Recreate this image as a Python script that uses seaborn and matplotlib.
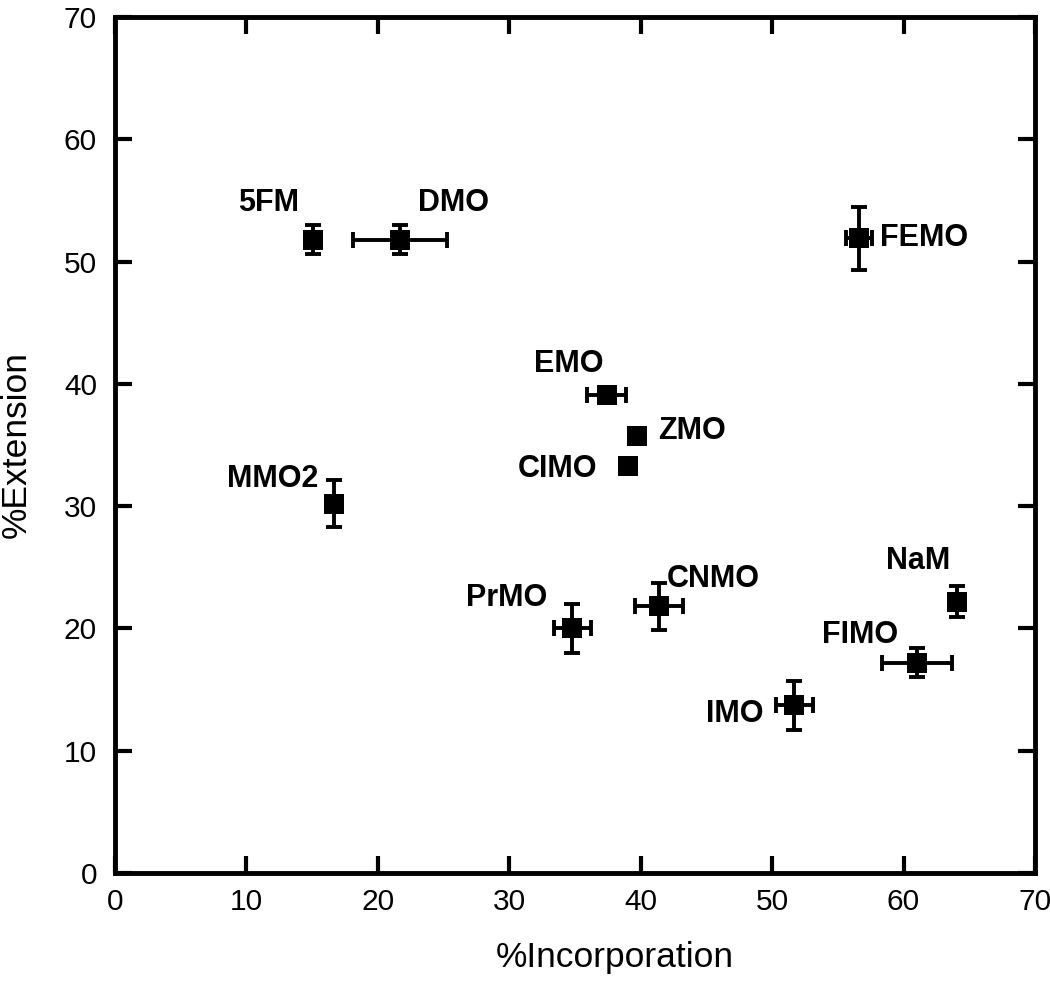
import numpy as np
import pandas as pd
import matplotlib
matplotlib.use("Agg")
import matplotlib.pyplot as plt
import seaborn as sns

# data
names = ["5FM", "DMO", "FEMO", "EMO", "ZMO", "CIMO", "MMO2", "PrMO", "CNMO", "NaM", "FIMO", "IMO"]
incorporation = [15.1, 21.7, 56.6, 37.4, 39.7, 39.0, 16.7, 34.8, 41.4, 64.1, 61.0, 51.7]
extension = [51.8, 51.8, 51.9, 39.1, 35.7, 33.3, 30.2, 20.0, 21.8, 22.2, 17.2, 13.7]
incorporation_err = [0, 3.6, 1.0, 1.45, 0, 0, 0, 1.4, 1.8, 0.6, 2.65, 1.4]
extension_err = [1.2, 1.2, 2.6, 0, 0, 0, 1.9, 2.0, 1.9, 1.3, 1.2, 2.0]

# label placement (offset from point, in pixels at 100 dpi)
label_offsets = {
    "5FM": (-45, 37), "DMO": (53, 37), "FEMO": (65, 0), "EMO": (-38, 31),
    "ZMO": (55, 5), "CIMO": (-70, -3), "MMO2": (-62, 25), "PrMO": (-66, 30),
    "CNMO": (54, 27), "NaM": (-39, 41), "FIMO": (-57, 28), "IMO": (-60, -9),
}

df = pd.DataFrame({"name": names, "inc": incorporation, "ext": extension,
                   "inc_err": incorporation_err, "ext_err": extension_err})

sns.set_style("ticks")
plt.rcParams["font.family"] = ["Liberation Sans", "DejaVu Sans"]
plt.rcParams["text.color"] = "black"
plt.rcParams["axes.labelcolor"] = "black"
plt.rcParams["xtick.color"] = "black"
plt.rcParams["ytick.color"] = "black"

fig = plt.figure(figsize=(10.5, 9.83), dpi=100)
ax = fig.add_axes([0.1095, 0.1119, 0.8762, 0.8708])

for _, r in df.iterrows():
    ax.errorbar(r["inc"], r["ext"],
                xerr=r["inc_err"] if r["inc_err"] > 0 else None,
                yerr=r["ext_err"] if r["ext_err"] > 0 else None,
                fmt="none", ecolor="black", elinewidth=2.8, capsize=5.5, capthick=2.8, zorder=2)

sns.scatterplot(data=df, x="inc", y="ext", marker="s", s=200, color="black",
                edgecolor="black", linewidth=0, ax=ax, zorder=3)

for _, r in df.iterrows():
    dx, dy = label_offsets[r["name"]]
    ax.annotate(r["name"], (r["inc"], r["ext"]), xytext=(dx * 0.72, dy * 0.72),
                textcoords="offset points", ha="center", va="center",
                fontsize=22, fontweight="bold", color="black")

ax.set_xlim(0, 70)
ax.set_ylim(0, 70)
ax.set_xticks(range(0, 71, 10))
ax.set_yticks(range(0, 71, 10))
ax.tick_params(direction="in", length=12, width=3, labelsize=21.5, top=True, right=True,
               color="black", labelcolor="black")
ax.tick_params(axis="x", pad=11)
ax.tick_params(axis="y", pad=13)
for sp in ax.spines.values():
    sp.set_linewidth(3.5)
    sp.set_color("black")

ax.set_xlabel("%Incorporation", fontsize=25.5)
ax.set_ylabel("%Extension", fontsize=25.5)
ax.xaxis.set_label_coords(0.543, -0.08)
ax.yaxis.set_label_coords(-0.089, 0.5)

fig.savefig("out.png", dpi=100)
